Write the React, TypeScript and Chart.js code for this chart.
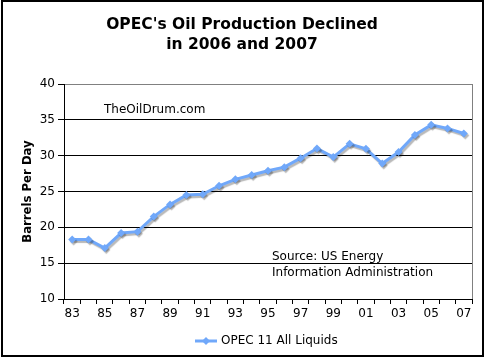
import React, { useEffect, useRef } from "react";
import { Chart, registerables } from "chart.js";

Chart.register(...registerables);

const years = ["83","84","85","86","87","88","89","90","91","92","93","94","95","96","97","98","99","00","01","02","03","04","05","06","07"];
const production = [18.3,18.3,17.1,19.2,19.4,21.5,23.2,24.5,24.6,25.8,26.7,27.3,27.9,28.4,29.65,31.0,29.8,31.65,30.95,28.9,30.5,32.9,34.3,33.8,33.1];
const seriesName = "OPEC 11 All Liquids";
const titleLines = ["OPEC's Oil Production Declined", "in 2006 and 2007"];
const yTitle = "Barrels Per Day";
const noteTop = ["TheOilDrum.com"];
const noteSource = ["Source: US Energy", "Information Administration"];

const LINE = "#70A8FA";
const FONT = "'DejaVu Sans', Verdana, sans-serif";

const decorPlugin = {
  id: "decor",
  beforeDatasetsDraw(chart: any) {
    const ctx = chart.ctx;
    ctx.save();
    ctx.shadowColor = "rgba(0,0,0,0.28)";
    ctx.shadowOffsetX = 1.5;
    ctx.shadowOffsetY = 2;
    ctx.shadowBlur = 1;
  },
  afterDatasetsDraw(chart: any) {
    const ctx = chart.ctx;
    ctx.restore();
    const a = chart.chartArea;
    ctx.save();
    // plot frame right side (gray)
    ctx.strokeStyle = "#808080";
    ctx.lineWidth = 1;
    ctx.beginPath();
    ctx.moveTo(Math.round(a.right) + 0.5, a.top);
    ctx.lineTo(Math.round(a.right) + 0.5, a.bottom);
    ctx.stroke();
    // notes
    ctx.fillStyle = "#000";
    ctx.font = `12px ${FONT}`;
    ctx.textBaseline = "middle";
    ctx.textAlign = "left";
    noteTop.forEach((t, i) => ctx.fillText(t, 104, 110 + i * 15));
    noteSource.forEach((t, i) => ctx.fillText(t, 272, 257 + i * 15.5));
    // title
    ctx.font = `bold 15.5px ${FONT}`;
    ctx.textAlign = "center";
    titleLines.forEach((t, i) => ctx.fillText(t, 242, 25 + i * 20));
    // legend
    const ly = 341;
    ctx.strokeStyle = LINE;
    ctx.lineWidth = 3;
    ctx.beginPath();
    ctx.moveTo(195, ly);
    ctx.lineTo(217, ly);
    ctx.stroke();
    ctx.fillStyle = LINE;
    ctx.beginPath();
    ctx.moveTo(206, ly - 4);
    ctx.lineTo(210, ly);
    ctx.lineTo(206, ly + 4);
    ctx.lineTo(202, ly);
    ctx.closePath();
    ctx.fill();
    ctx.fillStyle = "#000";
    ctx.font = `12px ${FONT}`;
    ctx.textAlign = "left";
    ctx.fillText(seriesName, 221, ly);
    // outer border
    ctx.strokeStyle = "#000";
    ctx.lineWidth = 2;
    ctx.strokeRect(2, 1, 481, 355);
    ctx.restore();
  },
};

export default function App() {
  const ref = useRef<HTMLCanvasElement>(null);
  useEffect(() => {
    document.body.style.margin = "0";
    const chart = new Chart(ref.current as HTMLCanvasElement, {
      type: "line",
      data: {
        labels: years,
        datasets: [
          {
            label: seriesName,
            data: production,
            borderColor: LINE,
            backgroundColor: LINE,
            borderWidth: 3,
            pointStyle: "rectRot",
            pointRadius: 4,
            pointBackgroundColor: LINE,
            pointBorderColor: LINE,
            pointBorderWidth: 0,
            tension: 0,
          },
        ],
      },
      options: {
        responsive: false,
        animation: false,
        layout: { padding: { top: 84, right: 13, bottom: 29, left: 0 } },
        plugins: {
          legend: { display: false },
          title: { display: false },
          tooltip: { enabled: false },
        },
        scales: {
          x: {
            offset: true,
            afterFit: (s: any) => { s.height = 30; },
            grid: { display: true, drawOnChartArea: false, offset: true, tickLength: 5, color: "#000", tickColor: "#000" },
            border: { display: true, color: "#000", width: 1 },
            ticks: {
              autoSkip: false,
              maxRotation: 0,
              minRotation: 0,
              padding: 3,
              color: "#000",
              font: { family: FONT, size: 12 },
              callback: (_v: any, i: number) => (i % 2 === 0 ? years[i] : ""),
            },
          },
          y: {
            min: 10,
            max: 40,
            afterFit: (s: any) => { s.width = 64; },
            grid: {
              color: (c: any) => (c.tick && c.tick.value === 40 ? "#808080" : "#000"),
              tickColor: "#000",
              tickLength: 6,
              lineWidth: 1,
            },
            border: { display: true, color: "#000", width: 1 },
            ticks: {
              stepSize: 5,
              padding: 3,
              color: "#000",
              font: { family: FONT, size: 12 },
            },
            title: {
              display: true,
              text: yTitle,
              color: "#000",
              font: { family: FONT, size: 11.7, weight: "bold" },
              padding: { top: 21, bottom: 0 },
            },
          },
        },
      },
      plugins: [decorPlugin],
    });
    return () => chart.destroy();
  }, []);
  return (
    <div style={{ width: 485, height: 358, background: "#fff" }}>
      <canvas ref={ref} width={485} height={358} style={{ display: "block" }} />
    </div>
  );
}
